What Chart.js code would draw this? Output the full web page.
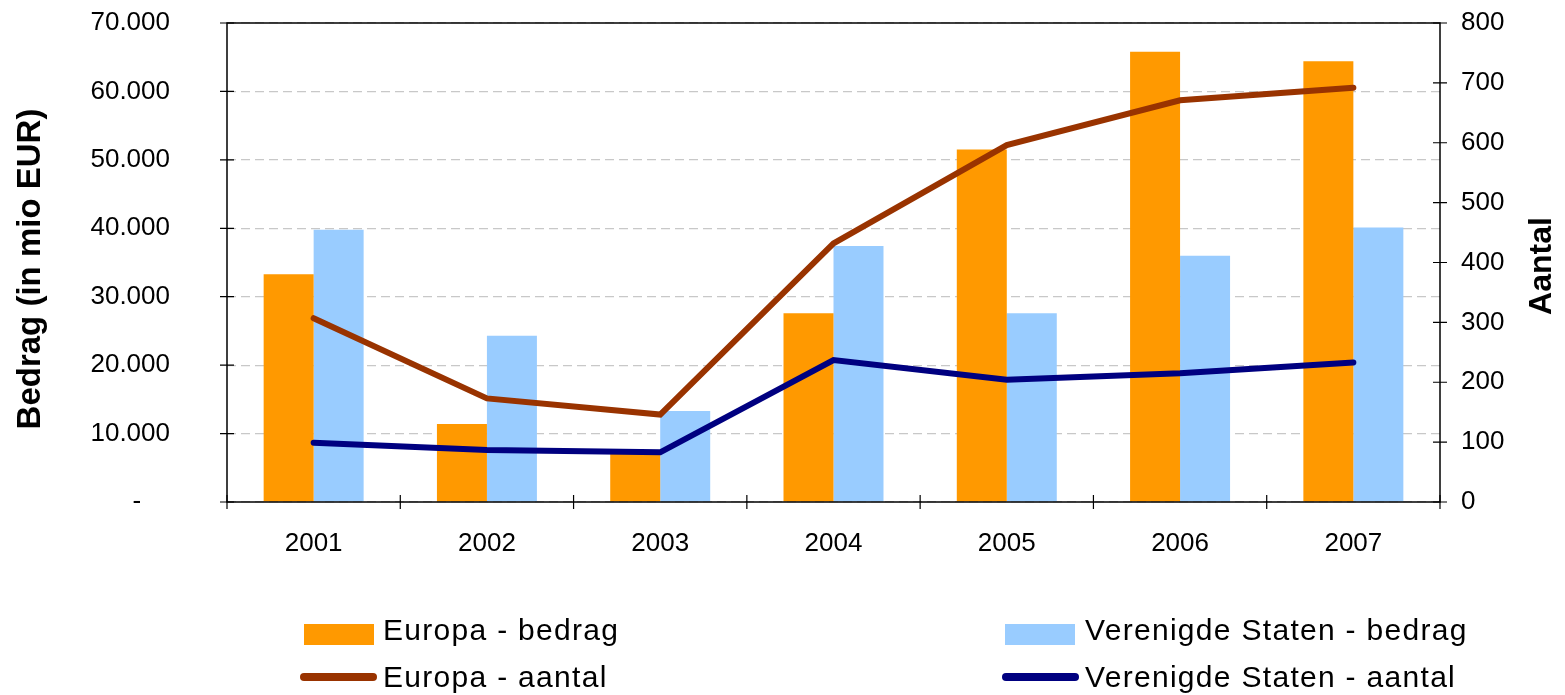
<!DOCTYPE html>
<html>
<head>
<meta charset="utf-8">
<script src="https://cdn.jsdelivr.net/npm/chart.js@4.4.1/dist/chart.umd.min.js"></script>
<style>
  html, body { margin: 0; padding: 0; background: #fff; }
  #wrap { position: relative; width: 1565px; height: 695px; }
  .lg { position: absolute; font-family: "Liberation Sans", Arial, sans-serif; font-size: 30px;
        line-height: 30px; letter-spacing: 1.3px; color: #000; white-space: nowrap; }
  .box { position: absolute; width: 70px; height: 21px; }
  .ln { position: absolute; height: 8px; border-radius: 4px; }
</style>
</head>
<body>
<div id="wrap">
  <canvas id="chart" width="1565" height="695"></canvas>
  <div id="legend"></div>
</div>
<script>
// === Data ===
const years = ["2001", "2002", "2003", "2004", "2005", "2006", "2007"];
const europaBedrag = [33300, 11400, 7000, 27600, 51500, 65800, 64400];
const vsBedrag = [39800, 24300, 13300, 37400, 27600, 36000, 40100];
const europaAantal = [307, 173, 146, 432, 596, 671, 692];
const vsAantal = [99, 87, 83, 237, 204, 215, 233];

const bedragMax = 70000, bedragStep = 10000;
const aantalMax = 800, aantalStep = 100;

const font = "'Liberation Sans', Arial, sans-serif";

// thousands with a dot, zero shown as a dash
function fmtBedrag(v) {
  if (v === 0) return "-    ";
  return String(v).replace(/\B(?=(\d{3})+(?!\d))/g, ".");
}

// frame, crossing tick marks and the axis titles
const framePlugin = {
  id: "frame",
  afterDatasetsDraw(chart) {
    const { ctx, chartArea: a, scales } = chart;
    ctx.save();
    ctx.strokeStyle = "#000";
    ctx.lineWidth = 1.5;
    ctx.strokeRect(a.left, a.top, a.right - a.left, a.bottom - a.top);

    ctx.lineWidth = 1.2;
    ctx.beginPath();
    scales.y.ticks.forEach(t => {
      const y = scales.y.getPixelForValue(t.value);
      ctx.moveTo(a.left - 7, y); ctx.lineTo(a.left + 7, y);
    });
    scales.y2.ticks.forEach(t => {
      const y = scales.y2.getPixelForValue(t.value);
      ctx.moveTo(a.right - 7, y); ctx.lineTo(a.right + 7, y);
    });
    const w = (a.right - a.left) / years.length;
    for (let i = 0; i <= years.length; i++) {
      const x = a.left + i * w;
      ctx.moveTo(x, a.bottom - 7); ctx.lineTo(x, a.bottom + 7);
    }
    ctx.stroke();

    ctx.fillStyle = "#000";
    ctx.textAlign = "center";
    ctx.textBaseline = "middle";
    ctx.font = "bold 33px " + font;
    ctx.translate(31, 269);
    ctx.rotate(-Math.PI / 2);
    ctx.fillText("Bedrag (in mio EUR)", 0, 0);
    ctx.restore();

    ctx.save();
    ctx.fillStyle = "#000";
    ctx.textAlign = "center";
    ctx.textBaseline = "middle";
    ctx.font = "bold 32px " + font;
    ctx.translate(1542, 266);
    ctx.rotate(-Math.PI / 2);
    ctx.fillText("Aantal", 0, 0);
    ctx.restore();
  }
};

// keep the large tick padding from pushing the plot area down
function fitY(width) {
  return scale => {
    scale.width = width;
    scale.paddingTop = 10;
    scale.paddingBottom = 10;
  };
}

const ctx = document.getElementById("chart").getContext("2d");

const chart = new Chart(ctx, {
  data: {
    labels: years,
    datasets: [
      {
        type: "line",
        label: "Europa - aantal",
        data: europaAantal,
        yAxisID: "y2",
        borderColor: "#993300",
        borderWidth: 6,
        borderCapStyle: "round",
        pointRadius: 0,
        tension: 0,
        order: 0
      },
      {
        type: "line",
        label: "Verenigde Staten - aantal",
        data: vsAantal,
        yAxisID: "y2",
        borderColor: "#000080",
        borderWidth: 6,
        borderCapStyle: "round",
        pointRadius: 0,
        tension: 0,
        order: 0
      },
      {
        type: "bar",
        label: "Europa - bedrag",
        data: europaBedrag,
        yAxisID: "y",
        backgroundColor: "#FF9900",
        barPercentage: 1,
        categoryPercentage: 0.577,
        order: 1
      },
      {
        type: "bar",
        label: "Verenigde Staten - bedrag",
        data: vsBedrag,
        yAxisID: "y",
        backgroundColor: "#99CCFF",
        barPercentage: 1,
        categoryPercentage: 0.577,
        order: 1
      }
    ]
  },
  options: {
    responsive: false,
    animation: false,
    devicePixelRatio: 1,
    layout: { padding: { top: 23, bottom: 133, left: 0, right: 0 } },
    plugins: {
      legend: { display: false },
      tooltip: { enabled: false }
    },
    scales: {
      x: {
        offset: true,
        grid: { display: false, offset: true },
        border: { display: false },
        ticks: { color: "#000", font: { family: font, size: 26 }, padding: 18, maxRotation: 0 },
        afterFit(scale) { scale.height = 60; }
      },
      y: {
        position: "left",
        min: 0,
        max: bedragMax,
        grid: { color: "#c8c8c8", lineWidth: 1.2, drawTicks: false },
        border: { display: false, dash: [9, 5] },
        ticks: {
          stepSize: bedragStep,
          color: "#000",
          font: { family: font, size: 26 },
          padding: 57,
          callback: v => fmtBedrag(v)
        },
        afterFit: fitY(227)
      },
      y2: {
        position: "right",
        min: 0,
        max: aantalMax,
        grid: { drawOnChartArea: false, drawTicks: false },
        border: { display: false },
        ticks: {
          stepSize: aantalStep,
          color: "#000",
          font: { family: font, size: 26 },
          padding: 21
        },
        afterFit: fitY(125)
      }
    }
  },
  plugins: [framePlugin]
});

// === Legend in two columns, built from the datasets ===
const legendSpots = {
  "Europa - bedrag": { x: 304, textX: 383, row: 0 },
  "Verenigde Staten - bedrag": { x: 1005, textX: 1085, row: 0 },
  "Europa - aantal": { x: 300, textX: 383, row: 1 },
  "Verenigde Staten - aantal": { x: 1002, textX: 1085, row: 1 }
};
const legendEl = document.getElementById("legend");
chart.data.datasets.forEach(ds => {
  const spot = legendSpots[ds.label];
  const mark = document.createElement("div");
  if (ds.type === "bar") {
    mark.className = "box";
    mark.style.left = spot.x + "px";
    mark.style.top = "624px";
    mark.style.background = ds.backgroundColor;
  } else {
    mark.className = "ln";
    mark.style.left = spot.x + "px";
    mark.style.top = "673px";
    mark.style.width = "77px";
    mark.style.background = ds.borderColor;
  }
  legendEl.appendChild(mark);

  const txt = document.createElement("div");
  txt.className = "lg";
  txt.style.left = spot.textX + "px";
  txt.style.top = (spot.row === 0 ? 614.6 : 661.6) + "px";
  txt.textContent = ds.label;
  legendEl.appendChild(txt);
});
</script>
</body>
</html>
